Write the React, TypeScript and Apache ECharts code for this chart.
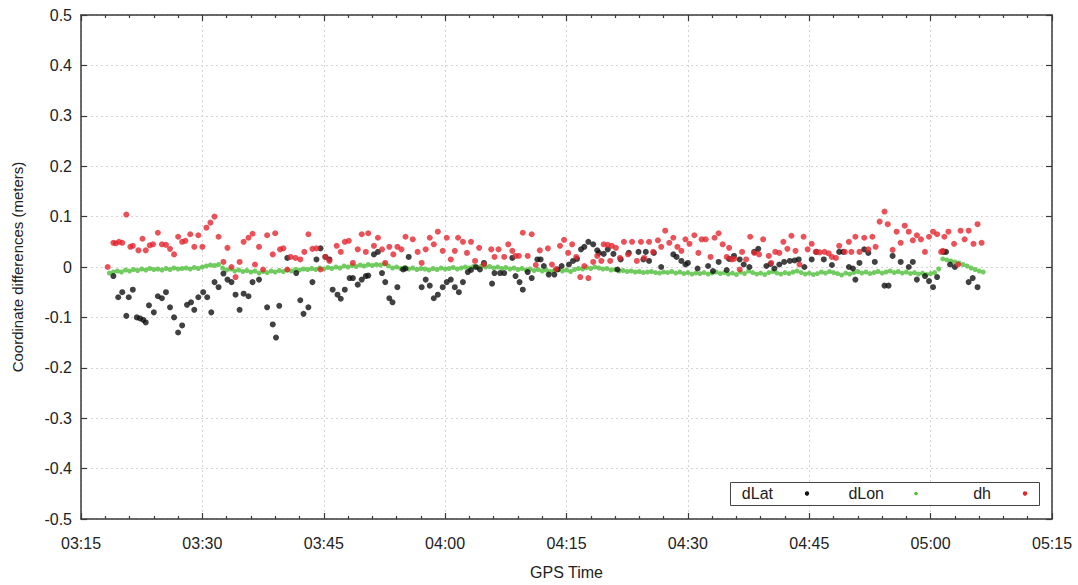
import React, { useEffect, useRef } from "react";
import * as echarts from "echarts";

// x values are minutes after midnight (GPS time)
const xTicks = [195, 210, 225, 240, 255, 270, 285, 300, 315];
const yTicks = [-0.5, -0.4, -0.3, -0.2, -0.1, 0, 0.1, 0.2, 0.3, 0.4, 0.5];
const seriesNames = ["dLat", "dLon", "dh"];

// dLat [minute, meters]
const dLatData: [number, number][] = [
  [199.0, -0.018], [199.6, -0.06], [200.1, -0.05], [200.6, -0.097], [200.9, -0.06], [201.4, -0.045],
  [201.9, -0.1], [202.3, -0.102], [202.7, -0.105], [203.0, -0.11], [203.4, -0.076], [204.0, -0.09],
  [204.5, -0.058], [205.0, -0.062], [205.5, -0.05], [206.0, -0.08], [206.5, -0.1], [207.0, -0.13],
  [207.5, -0.116], [208.1, -0.075], [208.6, -0.07], [209.0, -0.085], [209.5, -0.06], [210.1, -0.05],
  [210.6, -0.06], [211.1, -0.09], [211.5, -0.03], [212.0, -0.04], [212.6, -0.013], [213.1, -0.025],
  [213.6, -0.03], [214.1, -0.055], [214.6, -0.085], [215.1, -0.053], [215.7, -0.058], [216.2, -0.03],
  [217.0, -0.025], [218.0, -0.08], [218.7, -0.114], [219.1, -0.14], [219.5, -0.077], [220.5, 0.018],
  [221.6, -0.012], [222.1, -0.066], [222.5, -0.093], [223.1, -0.08], [223.6, -0.03], [224.1, 0.015],
  [224.6, 0.037], [225.2, 0.02], [225.7, 0.015], [226.1, -0.045], [226.7, -0.055], [227.1, -0.063],
  [227.6, -0.045], [228.2, -0.022], [228.6, -0.022], [229.2, -0.035], [229.7, -0.025], [230.2, -0.018],
  [230.5, -0.017], [231.2, 0.025], [231.7, 0.03], [232.2, -0.012], [232.6, -0.03], [233.1, -0.062],
  [233.5, -0.07], [234.1, -0.04], [234.8, -0.005], [235.1, -0.003], [235.5, 0.02], [237.1, -0.04],
  [237.6, -0.025], [238.1, -0.037], [238.6, -0.062], [239.1, -0.055], [239.7, -0.04], [240.2, -0.03],
  [240.7, -0.025], [241.2, -0.04], [241.7, -0.05], [242.2, -0.03], [242.8, -0.01], [243.2, -0.006],
  [243.8, 0.0], [244.3, -0.005], [244.8, 0.008], [245.8, -0.033], [246.1, -0.012], [246.8, -0.012],
  [247.3, -0.012], [248.3, 0.018], [248.7, -0.018], [249.2, -0.03], [249.6, -0.045], [250.2, -0.01],
  [250.7, -0.022], [251.4, 0.015], [251.8, 0.015], [252.2, 0.002], [252.8, -0.015], [253.5, -0.015],
  [253.9, -0.005], [254.4, 0.002], [255.3, 0.005], [255.8, 0.012], [256.3, 0.016], [256.8, 0.035],
  [257.2, 0.04], [257.7, 0.05], [258.3, 0.045], [258.8, 0.033], [259.0, 0.028], [259.6, 0.026],
  [260.1, 0.035], [260.8, 0.026], [261.3, -0.005], [261.7, 0.015], [262.7, 0.028], [263.9, 0.03],
  [264.5, 0.015], [264.8, 0.03], [265.2, 0.012], [265.8, 0.028], [266.7, 0.0], [268.2, 0.025],
  [268.6, 0.02], [269.2, 0.012], [269.7, 0.005], [270.0, 0.008], [271.2, -0.003], [272.5, 0.002],
  [273.1, -0.008], [273.8, 0.01], [274.8, -0.006], [275.1, 0.016], [275.7, 0.022], [276.4, 0.015],
  [276.9, 0.005], [277.6, 0.0], [278.2, 0.03], [278.7, 0.036], [279.7, 0.002], [280.2, 0.006],
  [280.7, -0.003], [281.3, 0.005], [281.9, 0.01], [282.6, 0.012], [283.2, 0.013], [283.7, 0.015],
  [284.4, 0.0], [285.3, 0.015], [285.9, 0.03], [286.8, 0.015], [287.8, 0.004], [288.7, 0.03],
  [289.2, 0.03], [289.9, 0.0], [290.4, -0.003], [290.7, -0.025], [291.2, 0.008], [291.8, 0.035],
  [292.3, 0.028], [293.1, 0.01], [294.3, -0.037], [294.8, -0.037], [295.3, 0.022], [296.3, 0.01],
  [297.3, 0.0], [297.8, 0.01], [298.3, -0.025], [299.3, -0.018], [299.8, -0.028], [300.3, -0.04],
  [300.8, -0.02], [301.6, 0.03], [301.9, 0.03], [302.4, 0.005], [303.0, 0.0], [304.7, -0.03],
  [305.2, -0.022], [305.8, -0.04],
];

// dLon: one value every 30 s epoch starting at dLonStart
const dLonStart = 198.5;
const dLonStep = 0.5;
const dLonValues: number[] = [
  -0.012, -0.01, -0.008, -0.01, -0.006, -0.008, -0.005, -0.007, -0.004, -0.006, -0.003, -0.005, -0.004, -0.006,
  -0.003, -0.005, -0.002, -0.004, -0.003, -0.002, -0.004, -0.001, -0.003, 0.0, 0.002, 0.004, 0.003, 0.005,
  -0.002, -0.006, -0.004, -0.008, -0.006, -0.009, -0.007, -0.01, -0.008, -0.012, -0.009, -0.011, -0.008, -0.01,
  -0.007, -0.009, -0.006, -0.008, -0.005, -0.006, -0.004, -0.005, -0.003, -0.005, -0.002, -0.004, -0.001, -0.003,
  0.0, -0.002, 0.002, 0.0, 0.003, 0.001, 0.004, 0.002, 0.005, 0.003, 0.005, 0.004, 0.006, 0.002,
  -0.002, 0.0, -0.003, -0.001, -0.004, -0.002, -0.005, -0.003, -0.004, -0.006, -0.003, -0.005, -0.002, -0.004,
  -0.003, -0.001, -0.004, -0.002, 0.0, -0.002, 0.001, -0.001, 0.002, 0.0, 0.001, -0.002, 0.0, -0.003,
  -0.001, -0.004, -0.002, -0.005, -0.003, -0.006, -0.004, -0.007, -0.005, -0.008, -0.006, -0.009, -0.007, -0.005,
  -0.008, -0.006, -0.009, -0.005, -0.003, -0.004, -0.001, -0.003, 0.0, -0.002, -0.004, -0.003, -0.006, -0.005,
  -0.008, -0.007, -0.009, -0.008, -0.01, -0.009, -0.011, -0.01, -0.009, -0.011, -0.012, -0.01, -0.011, -0.009,
  -0.012, -0.01, -0.013, -0.011, -0.014, -0.012, -0.013, -0.011, -0.014, -0.012, -0.01, -0.013, -0.011, -0.014,
  -0.012, -0.015, -0.01, -0.013, -0.008, -0.011, -0.014, -0.012, -0.015, -0.011, -0.009, -0.012, -0.014, -0.011,
  -0.013, -0.01, -0.008, -0.011, -0.014, -0.012, -0.015, -0.013, -0.01, -0.012, -0.009, -0.011, -0.013, -0.016,
  -0.012, -0.014, -0.011, -0.009, -0.012, -0.01, -0.013, -0.011, -0.009, -0.012, -0.01, -0.008, -0.011, -0.009,
  -0.012, -0.01, -0.013, -0.011, -0.014, -0.012, -0.015, -0.013, -0.011, -0.004,
  0.016, 0.014, 0.012, 0.01, 0.008, 0.005, 0.002, -0.002, -0.005, -0.008, -0.01,
];

// dh [minute, meters]
const dhData: [number, number][] = [
  [198.3, 0.0], [199.0, 0.048], [199.3, 0.047], [199.7, 0.05], [200.1, 0.048], [200.6, 0.104],
  [201.1, 0.04], [201.4, 0.042], [202.1, 0.033], [202.6, 0.056], [203.0, 0.033], [203.5, 0.043],
  [203.9, 0.045], [204.5, 0.068], [205.0, 0.045], [205.5, 0.044], [206.0, 0.036], [206.5, 0.025],
  [207.0, 0.06], [207.5, 0.05], [207.9, 0.052], [208.5, 0.065], [209.0, 0.04], [209.5, 0.063],
  [210.0, 0.04], [210.5, 0.078], [211.0, 0.088], [211.5, 0.1], [212.0, 0.06], [212.6, 0.01],
  [213.1, 0.038], [213.6, 0.0], [214.1, -0.02], [214.6, 0.01], [215.1, 0.05], [215.7, 0.058],
  [216.2, 0.066], [216.5, 0.005], [217.0, 0.04], [217.5, -0.005], [218.0, 0.063], [218.7, 0.025],
  [219.0, 0.067], [219.6, 0.035], [220.0, 0.037], [220.5, -0.005], [220.9, 0.02], [221.5, 0.018],
  [222.1, 0.015], [222.6, 0.03], [223.1, 0.065], [223.6, 0.036], [224.1, 0.037], [224.6, -0.005],
  [225.2, 0.02], [225.7, 0.012], [226.6, 0.042], [227.1, 0.03], [227.6, 0.05], [228.1, 0.052],
  [228.6, 0.008], [229.2, 0.035], [229.7, 0.065], [230.2, 0.03], [230.5, 0.067], [231.2, 0.042],
  [231.7, 0.058], [232.2, 0.035], [232.6, 0.008], [233.1, 0.04], [233.6, 0.025], [234.1, 0.04],
  [234.6, 0.035], [235.1, 0.06], [236.0, 0.055], [236.6, 0.03], [237.1, 0.008], [237.6, 0.035],
  [238.1, 0.058], [238.6, 0.045], [239.1, 0.07], [239.7, 0.032], [240.2, 0.058], [240.7, 0.015],
  [241.2, 0.032], [241.6, 0.058], [242.2, 0.05], [242.7, 0.028], [243.2, 0.05], [243.7, 0.012],
  [244.2, 0.038], [244.8, 0.005], [245.7, 0.035], [246.1, 0.02], [246.6, 0.035], [247.3, 0.02],
  [247.8, 0.045], [248.3, 0.032], [248.7, 0.022], [249.1, 0.022], [249.6, 0.068], [250.2, 0.022],
  [250.7, 0.065], [251.2, 0.004], [251.7, 0.033], [252.7, 0.037], [253.2, 0.005], [253.7, -0.004],
  [254.2, 0.042], [254.7, 0.054], [255.2, 0.028], [255.7, 0.045], [256.2, 0.02], [256.7, -0.02],
  [257.2, 0.002], [257.7, -0.022], [258.3, 0.01], [258.8, 0.022], [259.3, 0.012], [259.6, 0.045],
  [260.1, 0.044], [260.4, 0.012], [260.6, 0.042], [261.1, 0.038], [261.6, 0.018], [262.1, 0.05],
  [262.6, 0.025], [263.1, 0.05], [263.7, 0.012], [264.2, 0.05], [264.6, 0.018], [265.2, 0.05],
  [265.7, 0.03], [266.3, 0.053], [266.7, 0.04], [267.2, 0.072], [267.7, 0.048], [268.2, 0.058],
  [268.7, 0.04], [269.2, 0.032], [269.7, 0.055], [270.2, 0.046], [270.8, 0.063], [271.3, 0.028],
  [271.7, 0.055], [272.2, 0.055], [272.8, 0.02], [273.3, 0.058], [273.8, 0.067], [274.3, 0.045],
  [274.8, 0.02], [275.1, 0.038], [275.4, 0.015], [275.7, 0.016], [276.4, -0.005], [276.7, 0.03],
  [277.2, 0.015], [277.7, 0.06], [278.2, 0.028], [278.8, 0.025], [279.3, 0.055], [280.0, 0.022],
  [280.3, 0.008], [280.8, 0.03], [281.3, 0.028], [281.8, 0.05], [282.3, 0.036], [282.8, 0.062],
  [283.3, 0.032], [283.8, 0.005], [284.3, 0.06], [284.8, 0.035], [285.3, 0.046], [285.8, 0.03],
  [286.3, 0.029], [286.9, 0.03], [287.4, 0.027], [287.8, 0.02], [288.3, 0.018], [288.7, 0.042],
  [289.4, 0.03], [289.9, 0.05], [290.2, 0.03], [290.7, 0.06], [291.2, 0.03], [291.8, 0.058],
  [292.3, 0.035], [292.8, 0.06], [293.2, 0.04], [293.7, 0.09], [294.3, 0.11], [294.7, 0.085],
  [295.3, 0.034], [295.8, 0.07], [296.3, 0.048], [296.8, 0.082], [297.3, 0.07], [297.8, 0.053],
  [298.3, 0.063], [298.8, 0.055], [299.3, 0.03], [299.8, 0.06], [300.3, 0.07], [300.8, 0.065],
  [301.3, 0.03], [301.5, 0.032], [301.7, 0.06], [302.2, 0.07], [302.9, 0.046], [303.4, 0.005],
  [303.7, 0.072], [304.2, 0.055], [304.7, 0.072], [305.3, 0.046], [305.8, 0.085], [306.3, 0.048],
];

const FONT = "'Liberation Sans', Arial, Helvetica, sans-serif";
const AXIS_COLOR = "#3a3a3a";
const COLORS = ["#111111", "#4fbf3a", "#e5262e"];

function fmtTime(v: number): string {
  const h = Math.floor(v / 60);
  const m = Math.round(v - h * 60);
  return (h < 10 ? "0" : "") + h + ":" + (m < 10 ? "0" : "") + m;
}

function fmtY(v: number): string {
  const r = Math.round(v * 10) / 10;
  return r === 0 ? "0" : String(r);
}

export default function App() {
  const ref = useRef<HTMLDivElement>(null);

  useEffect(() => {
    if (!ref.current) return;
    const chart = echarts.init(ref.current, undefined, { renderer: "svg" });

    const dLonData = dLonValues.map((v, i) => [dLonStart + i * dLonStep, v]);

    const commonX = {
      type: "value" as const,
      min: xTicks[0],
      max: xTicks[xTicks.length - 1],
      interval: 15,
      axisLine: { show: true, onZero: false, lineStyle: { color: AXIS_COLOR, width: 1.5 } },
      axisTick: { show: true, inside: true, length: 6, lineStyle: { color: AXIS_COLOR, width: 1.2 } },
      minorTick: { show: true, splitNumber: 5, length: 3, lineStyle: { color: AXIS_COLOR, width: 1.2 } },
    };
    const commonY = {
      type: "value" as const,
      min: yTicks[0],
      max: yTicks[yTicks.length - 1],
      interval: 0.1,
      axisLine: { show: true, onZero: false, lineStyle: { color: AXIS_COLOR, width: 1.5 } },
      axisTick: { show: true, inside: true, length: 6, lineStyle: { color: AXIS_COLOR, width: 1.2 } },
    };

    const legendTop = 482;
    const legendH = 23;
    const legendItems = [
      { name: seriesNames[0], textRight: 773, markX: 807 },
      { name: seriesNames[1], textRight: 884, markX: 916 },
      { name: seriesNames[2], textRight: 991, markX: 1025 },
    ];
    const graphics: any[] = [
      {
        type: "rect",
        left: 730,
        top: legendTop,
        shape: { width: 309, height: legendH },
        style: { fill: "#ffffff", stroke: "#444444", lineWidth: 1 },
        z: 100,
      },
    ];
    legendItems.forEach((it, i) => {
      graphics.push({
        type: "text",
        x: it.textRight,
        y: legendTop + legendH / 2,
        style: {
          text: it.name,
          textAlign: "right",
          textVerticalAlign: "middle",
          font: "16px " + FONT,
          fill: "#222222",
        },
        z: 101,
      });
      graphics.push({
        type: "circle",
        shape: { cx: it.markX, cy: legendTop + legendH / 2, r: i === 1 ? 1.8 : 2.2 },
        style: { fill: COLORS[i] },
        z: 101,
      });
    });

    chart.setOption({
      animation: false,
      backgroundColor: "#ffffff",
      grid: { left: 81, right: 26, top: 15, bottom: 65, containLabel: false },
      xAxis: [
        {
          ...commonX,
          position: "bottom",
          name: "GPS Time",
          nameLocation: "middle",
          nameGap: 45,
          nameTextStyle: { fontFamily: FONT, fontSize: 16, color: "#222" },
          axisLabel: { show: true, margin: 16, formatter: fmtTime, fontFamily: FONT, fontSize: 16, color: "#222" },
          splitLine: { show: true, lineStyle: { color: "#d4d4d4", type: [2, 3], width: 1 } },
        },
        {
          ...commonX,
          position: "top",
          axisLabel: { show: false },
          splitLine: { show: false },
        },
      ],
      yAxis: [
        {
          ...commonY,
          position: "left",
          name: "Coordinate differences (meters)",
          nameLocation: "middle",
          nameGap: 56,
          nameTextStyle: { fontFamily: FONT, fontSize: 15, color: "#222" },
          axisLabel: { show: true, margin: 9, formatter: fmtY, fontFamily: FONT, fontSize: 16, color: "#222" },
          splitLine: { show: true, lineStyle: { color: "#d4d4d4", type: [2, 3], width: 1 } },
        },
        {
          ...commonY,
          position: "right",
          axisLabel: { show: false },
          splitLine: { show: false },
        },
      ],
      legend: { show: false },
      series: [
        {
          name: seriesNames[0],
          type: "scatter",
          data: dLatData,
          symbol: "circle",
          symbolSize: 6,
          itemStyle: { color: COLORS[0] },
          z: 3,
        },
        {
          name: seriesNames[1],
          type: "scatter",
          data: dLonData,
          symbol: "circle",
          symbolSize: 5,
          itemStyle: { color: COLORS[1] },
          z: 2,
        },
        {
          name: seriesNames[2],
          type: "scatter",
          data: dhData,
          symbol: "circle",
          symbolSize: 6,
          itemStyle: { color: COLORS[2] },
          z: 4,
        },
      ],
      graphic: graphics,
    });

    return () => {
      chart.dispose();
    };
  }, []);

  return <div ref={ref} style={{ width: 1078, height: 585, position: "absolute", left: 0, top: 0 }} />;
}
